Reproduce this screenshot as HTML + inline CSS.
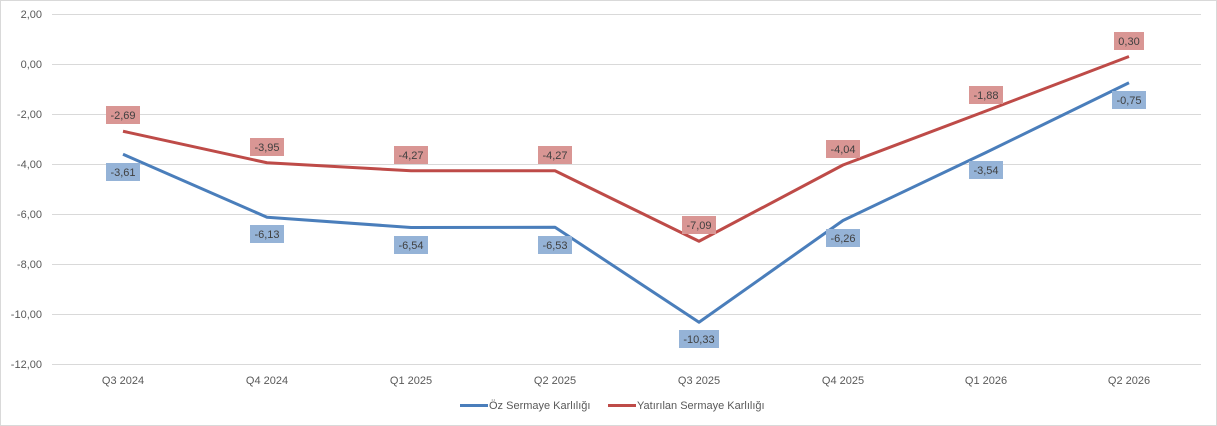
<!DOCTYPE html>
<html><head><meta charset="utf-8"><style>
body{margin:0;background:#fff}
svg{display:block;font-family:"Liberation Sans",sans-serif}
</style></head><body>
<svg width="1217" height="426" viewBox="0 0 1217 426">
<rect x="0.5" y="0.5" width="1216" height="425" fill="#fff" stroke="#d9d9d9"/>
<g stroke="#d9d9d9" stroke-width="1">
<line x1="52" x2="1201" y1="14.5" y2="14.5"/>
<line x1="52" x2="1201" y1="64.5" y2="64.5"/>
<line x1="52" x2="1201" y1="114.5" y2="114.5"/>
<line x1="52" x2="1201" y1="164.5" y2="164.5"/>
<line x1="52" x2="1201" y1="214.5" y2="214.5"/>
<line x1="52" x2="1201" y1="264.5" y2="264.5"/>
<line x1="52" x2="1201" y1="314.5" y2="314.5"/>
<line x1="52" x2="1201" y1="364.5" y2="364.5"/>
</g>
<g font-size="11" fill="#595959" text-anchor="end">
<text x="42" y="18">2,00</text><text x="42" y="68">0,00</text><text x="42" y="118">-2,00</text>
<text x="42" y="168">-4,00</text><text x="42" y="218">-6,00</text><text x="42" y="268">-8,00</text>
<text x="42" y="318">-10,00</text><text x="42" y="368">-12,00</text>
</g>
<g font-size="11" fill="#595959" text-anchor="middle">
<text x="123" y="384">Q3 2024</text><text x="267" y="384">Q4 2024</text><text x="411" y="384">Q1 2025</text>
<text x="555" y="384">Q2 2025</text><text x="699" y="384">Q3 2025</text><text x="843" y="384">Q4 2025</text>
<text x="986" y="384">Q1 2026</text><text x="1129" y="384">Q2 2026</text>
</g>
<polyline fill="none" stroke="#4a7ebb" stroke-width="3" stroke-linejoin="round" points="123,154.25 267,217.25 411,227.5 555,227.25 699,322.25 843,220.5 986,152.5 1129,82.75"/>
<polyline fill="none" stroke="#be4b48" stroke-width="3" stroke-linejoin="round" points="123,131.25 267,162.75 411,170.75 555,170.75 699,241.25 843,165 986,111 1129,56.5"/>
<g font-size="11" fill="#404040" text-anchor="middle">
<g fill="#d99694"><rect x="106" y="106" width="34" height="18"/><rect x="250" y="138" width="34" height="18"/><rect x="394" y="146" width="34" height="18"/><rect x="538" y="146" width="34" height="18"/><rect x="682" y="216" width="34" height="18"/><rect x="826" y="140" width="34" height="18"/><rect x="969" y="86" width="34" height="18"/><rect x="1114" y="32" width="30" height="18"/></g>
<text x="123" y="119">-2,69</text><text x="267" y="151">-3,95</text><text x="411" y="159">-4,27</text><text x="555" y="159">-4,27</text><text x="699" y="229">-7,09</text><text x="843" y="153">-4,04</text><text x="986" y="99">-1,88</text><text x="1129" y="45">0,30</text>
<g fill="#95b3d7"><rect x="106" y="163" width="34" height="18"/><rect x="250" y="225" width="34" height="18"/><rect x="394" y="236" width="34" height="18"/><rect x="538" y="236" width="34" height="18"/><rect x="679" y="330" width="40" height="18"/><rect x="826" y="229" width="34" height="18"/><rect x="969" y="161" width="34" height="18"/><rect x="1112" y="91" width="34" height="18"/></g>
<text x="123" y="176">-3,61</text><text x="267" y="238">-6,13</text><text x="411" y="249">-6,54</text><text x="555" y="249">-6,53</text><text x="699" y="343">-10,33</text><text x="843" y="242">-6,26</text><text x="986" y="174">-3,54</text><text x="1129" y="104">-0,75</text>
</g>
<line x1="460" x2="488" y1="405.5" y2="405.5" stroke="#4a7ebb" stroke-width="3"/>
<text x="489" y="409" font-size="11" fill="#595959">Öz Sermaye Karlılığı</text>
<line x1="608" x2="636" y1="405.5" y2="405.5" stroke="#be4b48" stroke-width="3"/>
<text x="637" y="409" font-size="11" fill="#595959">Yatırılan Sermaye Karlılığı</text>
</svg>
</body></html>
